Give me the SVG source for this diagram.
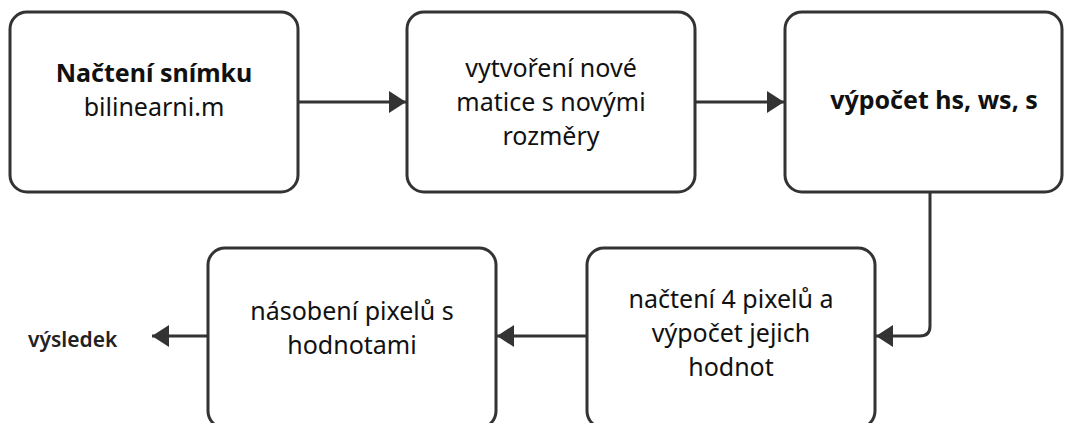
<svg xmlns="http://www.w3.org/2000/svg" width="1065" height="423" viewBox="0 0 1065 423">
<style>
.box{fill:#fff;stroke:#333;stroke-width:3}
.t{font-family:"Noto Sans","Open Sans",sans-serif;font-size:25px;fill:#111;text-anchor:middle}
.b{font-weight:700}
.edge{fill:none;stroke:#333;stroke-width:3}
.res{font-family:"Noto Sans","Open Sans",sans-serif;font-size:21px;font-weight:600;fill:#222}
</style>
<defs>
<marker id="ah" markerWidth="17" markerHeight="22" refX="17" refY="11" orient="auto" markerUnits="userSpaceOnUse">
<path d="M0,0 L17,11 L0,22 Z" fill="#333"/>
</marker>
</defs>
<rect width="1065" height="423" fill="#fff"/>
<g id="connectors">
<path class="edge" d="M298,102 H406" marker-end="url(#ah)"/>
<path class="edge" d="M695,102 H784" marker-end="url(#ah)"/>
<path class="edge" d="M930,193 V326 Q930,336 920,336 H876" marker-end="url(#ah)"/>
<path class="edge" d="M587,336 H497" marker-end="url(#ah)"/>
<path class="edge" d="M207,336 H152" marker-end="url(#ah)"/>
</g>
<g id="n1">
<rect class="box" x="10" y="12" width="288" height="180" rx="17"/>
<text class="t b" x="154" y="82">Načtení snímku</text>
<text class="t" x="154" y="116">bilinearni.m</text>
</g>
<g id="n2">
<rect class="box" x="407" y="12" width="288" height="180" rx="17"/>
<text class="t" x="551" y="77">vytvoření nové</text>
<text class="t" x="551" y="111">matice s novými</text>
<text class="t" x="551" y="145">rozměry</text>
</g>
<g id="n3">
<rect class="box" x="785" y="12" width="277" height="180" rx="17"/>
<text class="t b" x="934" y="109">výpočet hs, ws, s</text>
</g>
<g id="n4">
<rect class="box" x="208" y="248" width="288" height="180" rx="17"/>
<text class="t" x="352" y="320">násobení pixelů s</text>
<text class="t" x="352" y="354">hodnotami</text>
</g>
<g id="n5">
<rect class="box" x="587" y="248" width="288" height="180" rx="17"/>
<text class="t" x="731" y="308">načtení 4 pixelů a</text>
<text class="t" x="731" y="342">výpočet jejich</text>
<text class="t" x="731" y="376">hodnot</text>
</g>
<g id="n6">
<text class="res" x="28" y="347">výsledek</text>
</g>
</svg>
